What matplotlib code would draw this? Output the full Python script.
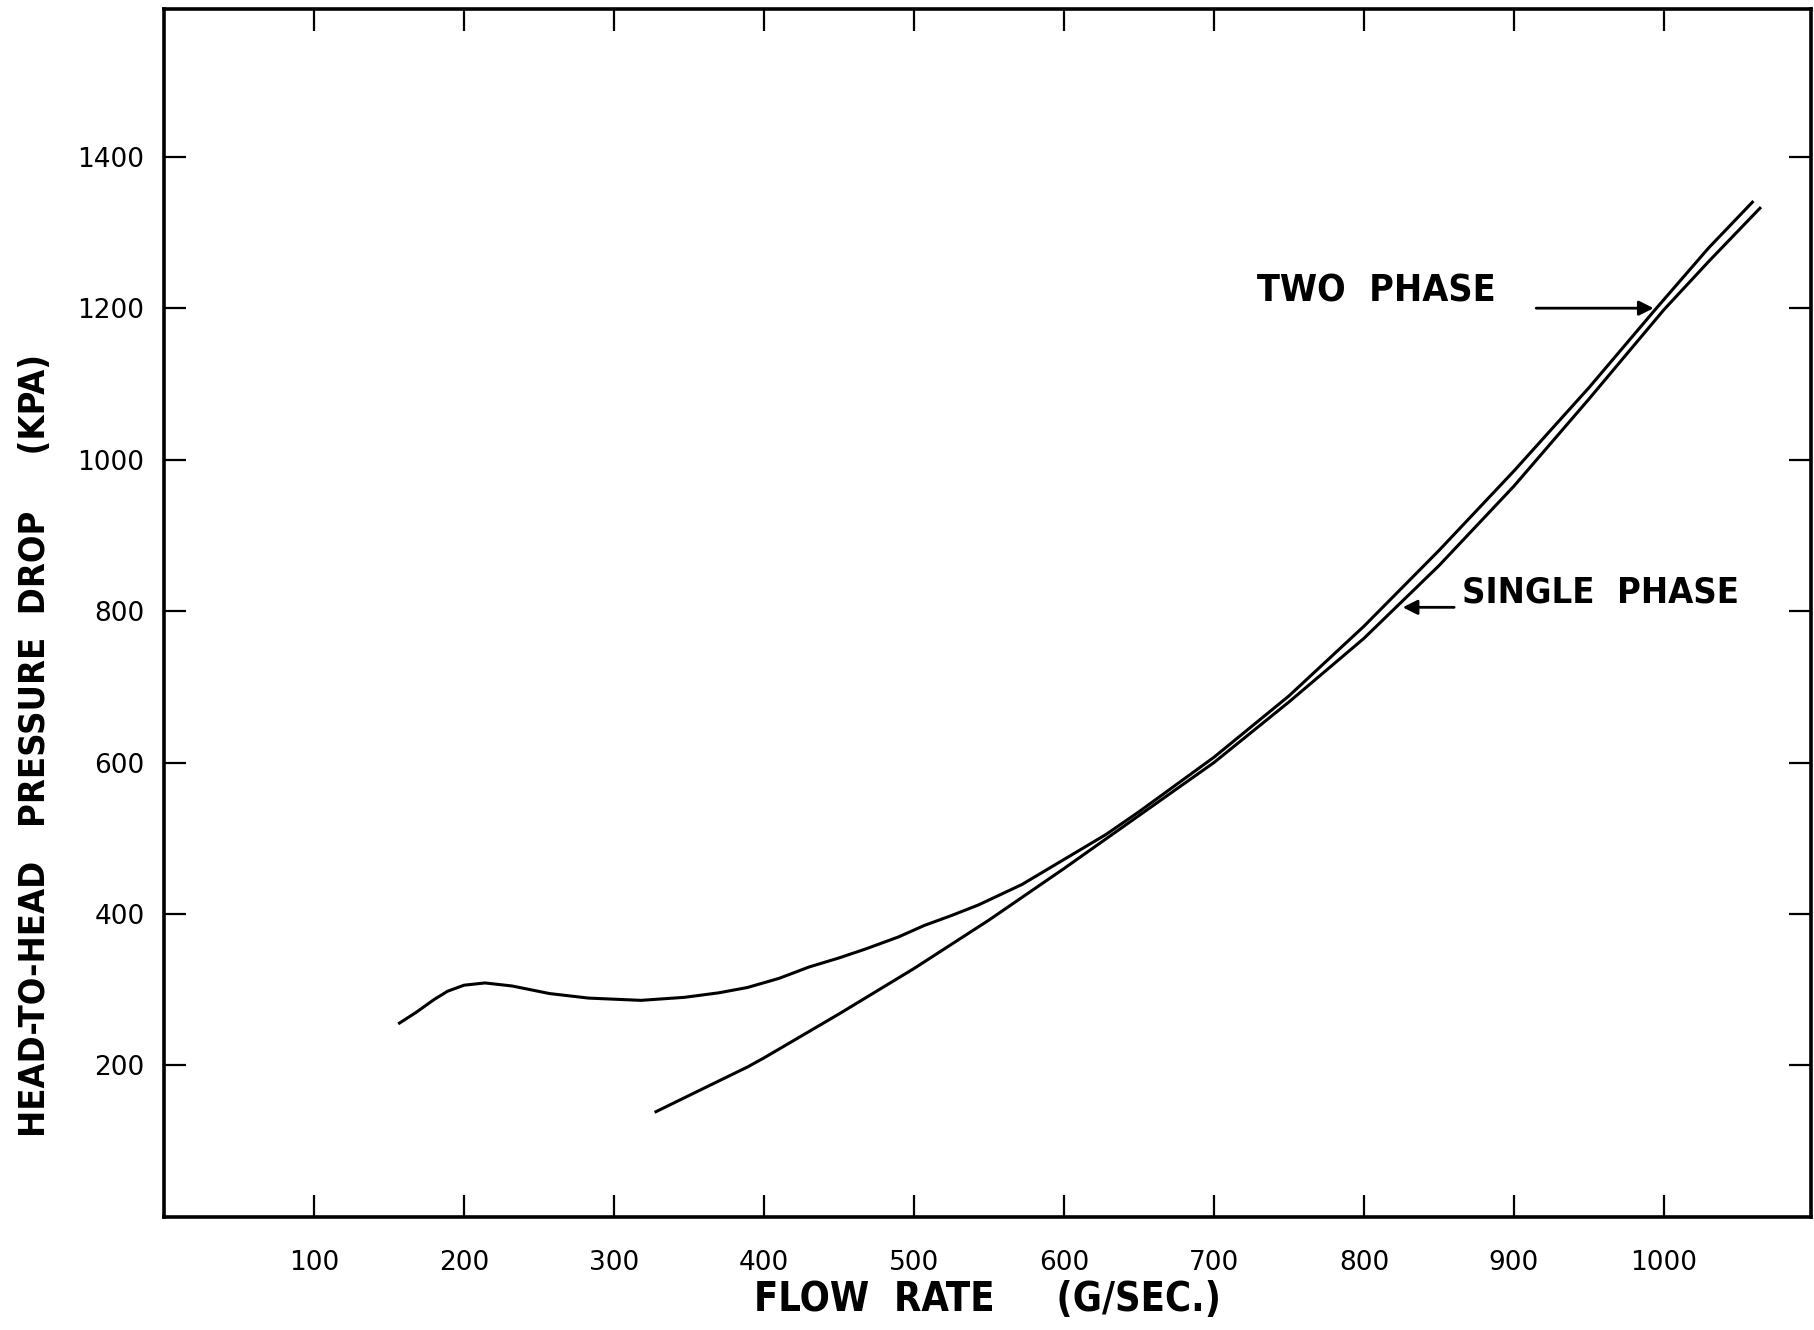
import matplotlib
matplotlib.use("Agg")
import matplotlib.pyplot as plt
import numpy as np

# flow rate (g/sec) vs head-to-head pressure drop (kPa)
two_phase_x = [157, 168, 180, 189, 200, 214, 232, 257, 283, 318, 347, 370, 389, 410, 430, 450,
               468, 490, 507, 525, 543, 572, 600, 628, 650, 700, 750, 800, 850, 900, 950, 995,
               1030, 1059]
two_phase_y = [256, 270, 287, 298, 306, 309, 305, 295, 289, 286, 290, 296, 303, 315, 330, 342,
               354, 370, 385, 398, 412, 439, 472, 505, 535, 607, 688, 780, 880, 985, 1095, 1200,
               1280, 1340]

single_phase_x = [328, 360, 389, 400, 450, 500, 550, 600, 650, 700, 750, 800, 850, 900, 950,
                  1000, 1030, 1064]
single_phase_y = [139, 170, 198, 210, 268, 328, 392, 460, 530, 600, 680, 764, 860, 965, 1080,
                  1198, 1262, 1332]

x_ticks = [100, 200, 300, 400, 500, 600, 700, 800, 900, 1000]
y_ticks = [200, 400, 600, 800, 1000, 1200, 1400]

lbl = dict(family='DejaVu Sans', fontstretch='condensed', fontweight='bold')

fig = plt.figure(figsize=(18.14, 13.30), dpi=100)
ax = fig.add_axes([0.0904, 0.085, 0.9079, 0.9082])

ax.plot(two_phase_x, two_phase_y, color='black', lw=2.2)
ax.plot(single_phase_x, single_phase_y, color='black', lw=2.2)

ax.set_xlim(0, 1098)
ax.set_ylim(0, 1595)
ax.set_xticks(x_ticks)
ax.set_yticks(y_ticks)
ax.set_xticklabels([str(t) for t in x_ticks], fontsize=19)
ax.set_yticklabels([str(t) for t in y_ticks], fontsize=19)
ax.tick_params(direction='in', length=16, width=1.6, top=True, right=True)
ax.tick_params(axis='x', pad=24)
ax.tick_params(axis='y', pad=14)
for s in ax.spines.values():
    s.set_linewidth(2.6)

ax.set_xlabel("FLOW  RATE     (G/SEC.)", fontsize=28.5, labelpad=3, **lbl)
ax.set_ylabel("HEAD-TO-HEAD   PRESSURE  DROP     (KPA)", fontsize=26, **lbl)
ax.yaxis.set_label_coords(-0.068, 0.39)

# curve labels with arrows
ax.text(808, 1222, "TWO  PHASE", fontsize=27, ha='center', va='center', **lbl)
ax.annotate('', xy=(995, 1200), xytext=(913, 1200),
            arrowprops=dict(arrowstyle='-|>', color='black', lw=2, mutation_scale=22))
ax.text(958, 825, "SINGLE  PHASE", fontsize=26, ha='center', va='center', **lbl)
ax.annotate('', xy=(824, 805), xytext=(862, 805),
            arrowprops=dict(arrowstyle='-|>', color='black', lw=2, mutation_scale=22))

plt.savefig("out.png", dpi=100)
